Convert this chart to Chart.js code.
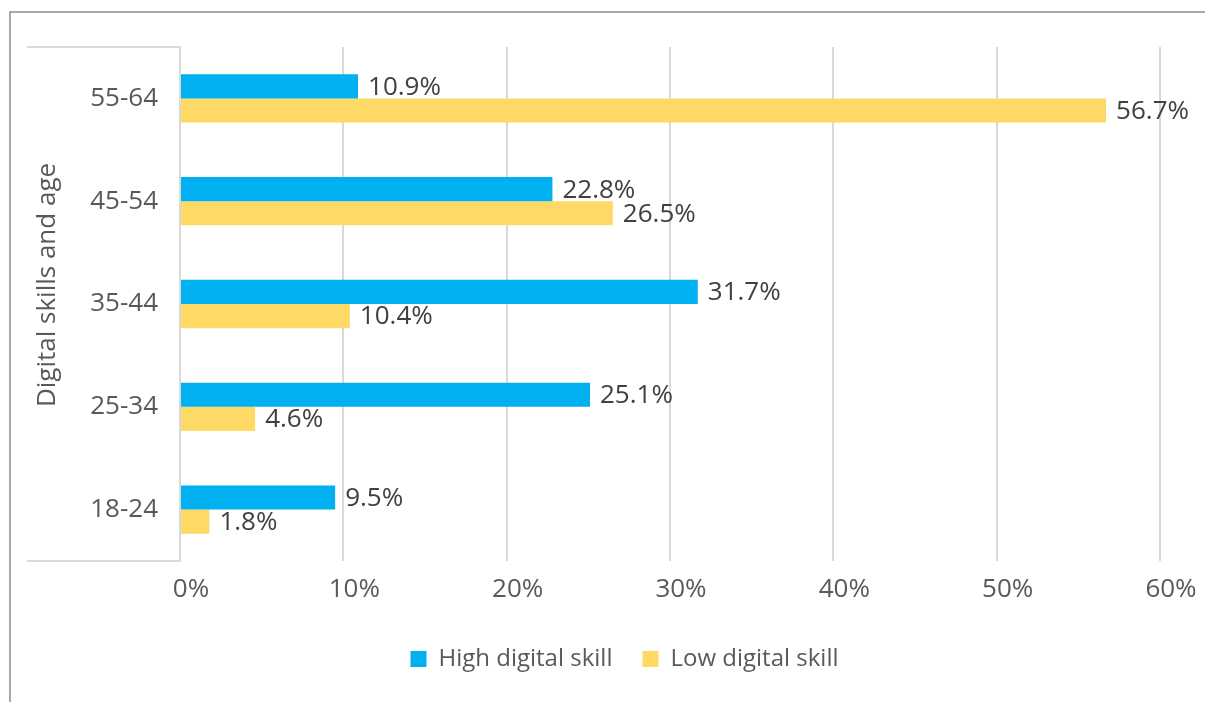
<!DOCTYPE html>
<html>
<head>
<meta charset="utf-8">
<title>Digital skills and age</title>
<script src="https://cdn.jsdelivr.net/npm/chart.js@4/dist/chart.umd.min.js"></script>
<style>
  html, body { margin: 0; padding: 0; background: #fff; }
  canvas { display: block; }
</style>
</head>
<body>
<canvas id="chart" width="1206" height="702"></canvas>
<script>
// ── data (top of chart first) ──
const ageGroups = ['55-64', '45-54', '35-44', '25-34', '18-24'];
const highSkill = [10.9, 22.8, 31.7, 25.1, 9.5];
const lowSkill  = [56.7, 26.5, 10.4, 4.6, 1.8];
const xTicks    = [0, 10, 20, 30, 40, 50, 60];
const axisTitle = 'Digital skills and age';

const FONT = '"Open Sans", "Noto Sans", sans-serif';
const BLUE = '#00B0F0';
const GOLD = '#FFD966';
const GRID = '#d9d9d9';

// frame lines, category box lines, axis title and value labels
const decor = {
  id: 'decor',
  afterLayout(chart) {
    // legend sits a bit right of the canvas centre in the original
    chart.legend.left += 31;
    chart.legend.right += 31;
  },
  afterDraw(chart) {
    const ctx = chart.ctx;
    const area = chart.chartArea;
    ctx.save();

    // outer frame (top + left edge)
    ctx.strokeStyle = '#8c8c8c';
    ctx.lineWidth = 1.5;
    ctx.beginPath();
    ctx.moveTo(1205, 12); ctx.lineTo(10, 12); ctx.lineTo(10, 702);
    ctx.stroke();

    // category box lines
    ctx.strokeStyle = GRID;
    ctx.lineWidth = 2;
    ctx.beginPath();
    ctx.moveTo(27, area.top); ctx.lineTo(area.left, area.top);
    ctx.moveTo(27, area.bottom); ctx.lineTo(area.left, area.bottom);
    ctx.stroke();

    // y axis title
    ctx.fillStyle = '#595959';
    ctx.font = '26px ' + FONT;
    ctx.textAlign = 'center';
    ctx.textBaseline = 'middle';
    ctx.translate(48, 285);
    ctx.rotate(-Math.PI / 2);
    ctx.fillText(axisTitle, 0, 0);
    ctx.setTransform(1, 0, 0, 1, 0, 0);

    // value labels
    ctx.fillStyle = '#404040';
    ctx.font = '26px ' + FONT;
    ctx.textAlign = 'left';
    chart.data.datasets.forEach((ds, i) => {
      chart.getDatasetMeta(i).data.forEach((bar, j) => {
        ctx.fillText(ds.data[j].toFixed(1) + '%', bar.x + 10, bar.y + 1);
      });
    });
    ctx.restore();
  }
};

new Chart(document.getElementById('chart'), {
  type: 'bar',
  data: {
    labels: ageGroups,
    datasets: [
      { label: 'High digital skill', data: highSkill, backgroundColor: BLUE },
      { label: 'Low digital skill', data: lowSkill, backgroundColor: GOLD }
    ]
  },
  options: {
    indexAxis: 'y',
    responsive: false,
    animation: false,
    devicePixelRatio: 1,
    categoryPercentage: 0.47,
    barPercentage: 1,
    layout: { padding: { left: 27, top: 47, right: 46, bottom: 21 } },
    plugins: {
      tooltip: { enabled: false },
      legend: {
        position: 'bottom',
        labels: {
          boxWidth: 16, boxHeight: 16, padding: 30,
          color: '#595959',
          font: { family: FONT, size: 24 }
        }
      }
    },
    scales: {
      x: {
        min: 0, max: 60,
        afterBuildTicks: s => { s.ticks = xTicks.map(v => ({ value: v })); },
        afterFit: s => { s.height = 56; },
        grid: { color: GRID, lineWidth: 2, drawTicks: false },
        border: { display: false },
        ticks: {
          color: '#595959', padding: 13, labelOffset: 11,
          font: { family: FONT, size: 26 },
          callback: v => v + '%'
        }
      },
      y: {
        afterFit: s => { s.width = 153; },
        grid: { display: false, drawTicks: false },
        border: { display: true, color: GRID, width: 2 },
        ticks: {
          color: '#595959', padding: 22,
          font: { family: FONT, size: 26 }
        }
      }
    }
  },
  plugins: [decor]
});
</script>
</body>
</html>
